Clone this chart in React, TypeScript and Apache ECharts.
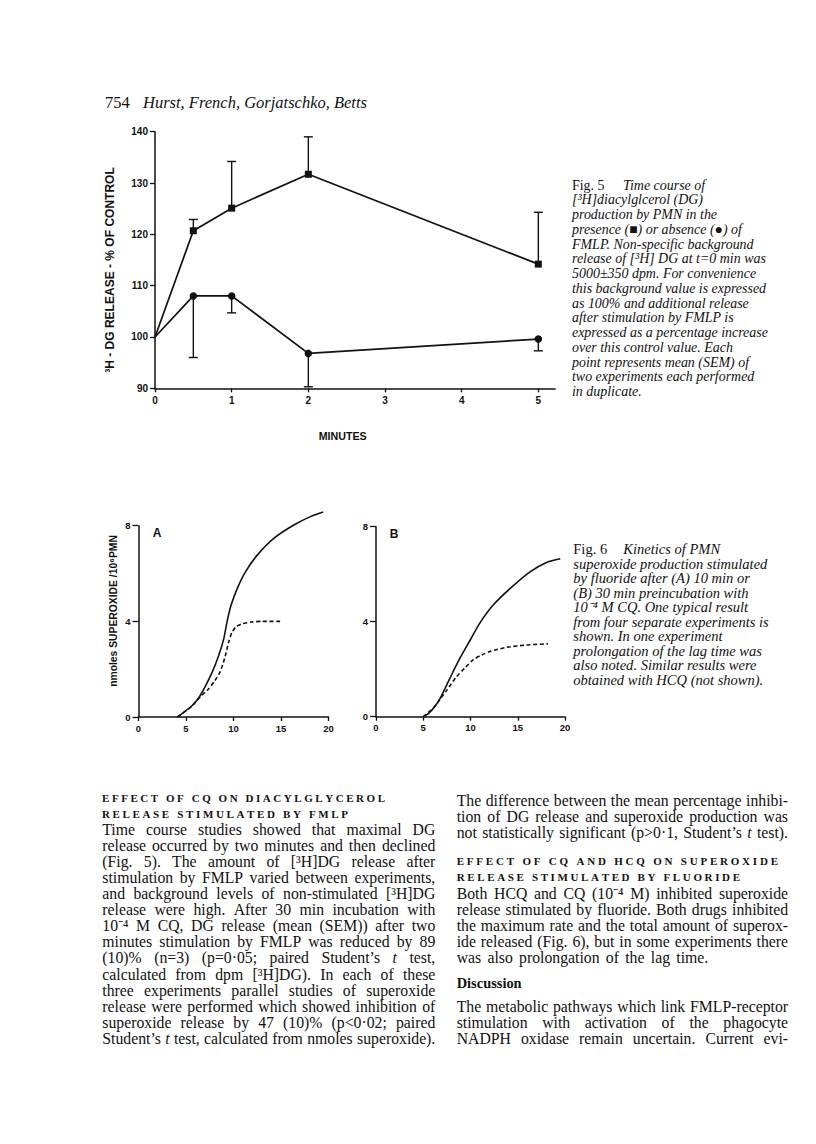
import React, { useEffect, useRef } from "react";
import * as echarts from "echarts";

// ---------------- Fig. 5 data ----------------
const fig5Minutes = [0, 0.5, 1, 2, 5];
const withFmlpMean = [100, 120.7, 125.1, 131.7, 114.2];
const withFmlpUpper = [null, 122.9, 134.2, 139.0, 124.3];
const withoutFmlpMean = [100, 108.0, 108.0, 96.8, 99.6];
const withoutFmlpLower = [null, 96.0, 104.7, 90.3, 97.3];
const fig5XTicks = [0, 1, 2, 3, 4, 5];

// ---------------- Fig. 6 data ----------------
const panelAControlTime = [4.1, 5.65, 6.5, 7.76, 8.45, 8.98, 9.33, 9.75, 10.4, 11.26, 12.5, 14.24, 16.35, 18.1, 19.44];
const panelAControlValue = [0, 0.48, 0.9, 1.88, 2.58, 3.28, 4.0, 4.68, 5.38, 6.07, 6.77, 7.47, 8.03, 8.38, 8.57];
const panelACqTime = [4.1, 5.6, 6.5, 7.25, 8.0, 8.6, 9.1, 9.5, 9.85, 10.3, 10.9, 11.9, 13.0, 14.95];
const panelACqValue = [0, 0.45, 0.85, 1.12, 1.5, 1.9, 2.5, 3.15, 3.55, 3.78, 3.9, 3.97, 4.0, 4.0];
const panelBControlTime = [5.0, 5.6, 6.2, 6.8, 7.8, 8.8, 10.0, 11.0, 12.4, 14.2, 16.3, 18.1, 19.5];
const panelBControlValue = [0, 0.15, 0.42, 0.78, 1.6, 2.4, 3.25, 3.95, 4.7, 5.4, 6.1, 6.5, 6.65];
const panelBCqTime = [5.0, 6.2, 6.8, 7.5, 8.45, 9.4, 10.3, 11.2, 12.1, 13.8, 15.9, 18.2];
const panelBCqValue = [0, 0.42, 0.75, 1.12, 1.65, 2.05, 2.4, 2.6, 2.75, 2.92, 3.02, 3.07];
const fig6XTicks = [0, 5, 10, 15, 20];

// ---------------- Page text ----------------
const headerNumber = "754";
const headerAuthors = "Hurst, French, Gorjatschko, Betts";
const fig5YTitle = "³H - DG RELEASE - % OF CONTROL";
const fig5XTitle = "MINUTES";
const fig6YTitle = "nmoles SUPEROXIDE /10⁶PMN";
const fig5CaptionLead = "Fig. 5";
const fig5Caption = [
  "Time course of",
  "[³H]diacylglcerol (DG)",
  "production by PMN in the",
  "presence (■) or absence (●) of",
  "FMLP. Non-specific background",
  "release of [³H] DG at t=0 min was",
  "5000±350 dpm. For convenience",
  "this background value is expressed",
  "as 100% and additional release",
  "after stimulation by FMLP is",
  "expressed as a percentage increase",
  "over this control value. Each",
  "point represents mean (SEM) of",
  "two experiments each performed",
  "in duplicate.",
];
const fig6CaptionLead = "Fig. 6";
const fig6Caption = [
  "Kinetics of PMN",
  "superoxide production stimulated",
  "by fluoride after (A) 10 min or",
  "(B) 30 min preincubation with",
  "10⁻⁴ M CQ. One typical result",
  "from four separate experiments is",
  "shown. In one experiment",
  "prolongation of the lag time was",
  "also noted. Similar results were",
  "obtained with HCQ (not shown).",
];
const leftHeading = ["EFFECT OF CQ ON DIACYLGLYCEROL", "RELEASE STIMULATED BY FMLP"];
const leftBody = [
  "Time course studies showed that maximal DG",
  "release occurred by two minutes and then declined",
  "(Fig. 5). The amount of [³H]DG release after",
  "stimulation by FMLP varied between experiments,",
  "and background levels of non-stimulated [³H]DG",
  "release were high. After 30 min incubation with",
  "10⁻⁴ M CQ, DG release (mean (SEM)) after two",
  "minutes stimulation by FMLP was reduced by 89",
  "(10)% (n=3) (p=0·05; paired Student’s _t_ test,",
  "calculated from dpm [³H]DG). In each of these",
  "three experiments parallel studies of superoxide",
  "release were performed which showed inhibition of",
  "superoxide release by 47 (10)% (p<0·02; paired",
  "Student’s _t_ test, calculated from nmoles superoxide).",
];
const rightBodyTop = [
  "The difference between the mean percentage inhibi-",
  "tion of DG release and superoxide production was",
  "not statistically significant (p>0·1, Student’s _t_ test).",
];
const rightHeading = ["EFFECT OF CQ AND HCQ ON SUPEROXIDE", "RELEASE STIMULATED BY FLUORIDE"];
const rightBodyMiddle = [
  "Both HCQ and CQ (10⁻⁴ M) inhibited superoxide",
  "release stimulated by fluoride. Both drugs inhibited",
  "the maximum rate and the total amount of superox-",
  "ide released (Fig. 6), but in some experiments there",
  "was also prolongation of the lag time.",
];
const discussionTitle = "Discussion";
const rightBodyBottom = [
  "The metabolic pathways which link FMLP-receptor",
  "stimulation with activation of the phagocyte",
  "NADPH oxidase remain uncertain. Current evi-",
];

// ---------------- styling ----------------
const INK = "#111111";
const SERIF = "Liberation Serif";
const SANS = "Liberation Sans";

let mctx: CanvasRenderingContext2D | null = null;
function measure(text: string, size: number, family: string, style = "normal", weight = "normal") {
  if (!mctx) mctx = document.createElement("canvas").getContext("2d");
  mctx!.font = `${style} ${weight} ${size}px "${family}"`;
  return mctx!.measureText(text).width;
}
function fitSize(text: string, width: number, family: string, style = "normal", weight = "normal") {
  return (100 * width) / measure(text, 100, family, style, weight);
}

function textEl(x: number, y: number, text: string, size: number, family: string, opt: any = {}) {
  const align = opt.align ?? "left";
  return {
    type: "text",
    x,
    y,
    rotation: opt.rotation ?? 0,
    silent: true,
    style: {
      text,
      fill: INK,
      fontSize: size,
      fontFamily: family,
      fontStyle: opt.style ?? "normal",
      fontWeight: opt.weight ?? "normal",
      align,
      verticalAlign: "middle",
      textAlign: align,
      textVerticalAlign: "middle",
    },
  };
}

function tokens(line: string) {
  return line
    .split(" ")
    .filter((t) => t.length > 0)
    .map((t) => {
      const italic = t.length > 2 && t.startsWith("_") && t.endsWith("_");
      return { t: italic ? t.slice(1, -1) : t, italic };
    });
}
function naturalWidth(line: string, size: number) {
  const toks = tokens(line);
  let w = 0;
  toks.forEach((k) => (w += measure(k.t, size, SERIF, k.italic ? "italic" : "normal")));
  return w + (toks.length - 1) * measure(" ", size, SERIF);
}
function layoutLine(els: any[], line: string, x0: number, y: number, width: number, size: number, justify: boolean) {
  const toks = tokens(line);
  const ws = toks.map((k) => measure(k.t, size, SERIF, k.italic ? "italic" : "normal"));
  const sum = ws.reduce((a, b) => a + b, 0);
  const gap = justify && toks.length > 1 ? (width - sum) / (toks.length - 1) : measure(" ", size, SERIF);
  let x = x0;
  toks.forEach((k, i) => {
    els.push(textEl(x, y, k.t, size, SERIF, { style: k.italic ? "italic" : "normal" }));
    x += ws[i] + gap;
  });
}
function spacedLine(els: any[], text: string, x0: number, y: number, width: number, size: number) {
  const chars = Array.from(text);
  const ws = chars.map((c) => measure(c, size, SERIF, "normal", "bold"));
  const total = ws.reduce((a, b) => a + b, 0);
  const sp = (width - total) / (chars.length - 1);
  let x = x0;
  chars.forEach((c, i) => {
    if (c !== " ") els.push(textEl(x, y, c, size, SERIF, { weight: "bold" }));
    x += ws[i] + sp;
  });
}

function buildGraphics() {
  const els: any[] = [];
  // header
  const hSize = fitSize(headerAuthors, 224, SERIF, "italic");
  els.push(textEl(105, 102, headerNumber, hSize, SERIF));
  els.push(textEl(143, 102, headerAuthors, hSize, SERIF, { style: "italic" }));

  // Fig 5 axis titles
  const yTitleSize = fitSize(fig5YTitle, 206, SANS, "normal", "bold");
  els.push(textEl(110, 270, fig5YTitle, yTitleSize, SANS, { weight: "bold", align: "center", rotation: Math.PI / 2 }));
  const xTitleSize = fitSize(fig5XTitle, 48, SANS, "normal", "bold");
  els.push(textEl(342.7, 436, fig5XTitle, xTitleSize, SANS, { weight: "bold", align: "center" }));

  // Fig 5 caption
  const c5 = fitSize("expressed as a percentage increase", 196, SERIF, "italic");
  els.push(textEl(572, 185, fig5CaptionLead, c5, SERIF));
  fig5Caption.forEach((l, i) => {
    els.push(textEl(i === 0 ? 623 : 572, 185 + i * 14.76, l, c5, SERIF, { style: "italic" }));
  });

  // Fig 6 titles & panel letters
  const y6Size = fitSize(fig6YTitle, 152, SANS, "normal", "bold");
  els.push(textEl(113, 611, fig6YTitle, y6Size, SANS, { weight: "bold", align: "center", rotation: Math.PI / 2 }));
  els.push(textEl(157, 533, "A", 12, SANS, { weight: "bold", align: "center" }));
  els.push(textEl(394, 534, "B", 12, SANS, { weight: "bold", align: "center" }));

  // Fig 6 caption
  const c6 = fitSize("from four separate experiments is", 195.7, SERIF, "italic");
  els.push(textEl(573.3, 549, fig6CaptionLead, c6, SERIF));
  fig6Caption.forEach((l, i) => {
    els.push(textEl(i === 0 ? 623.3 : 573.3, 549 + i * 14.56, l, c6, SERIF, { style: "italic" }));
  });

  // body text
  const LW = 333;
  const RW = 331.3;
  const fullLines = [...leftBody, ...rightBodyTop, ...rightBodyMiddle.slice(0, 4), ...rightBodyBottom];
  let bodySize = 100;
  fullLines.forEach((l) => {
    const s = (100 * 331) / naturalWidth(l, 100);
    if (s < bodySize) bodySize = s;
  });
  const headSize = 11;
  spacedLine(els, leftHeading[0], 102, 797.7, 283, headSize);
  spacedLine(els, leftHeading[1], 102, 814, 246, headSize);
  leftBody.forEach((l, i) => layoutLine(els, l, 102.3, 829.3 + i * 16.08, LW, bodySize, true));

  rightBodyTop.forEach((l, i) => layoutLine(els, l, 456.7, 800 + i * 16.15, RW, bodySize, true));
  spacedLine(els, rightHeading[0], 456.7, 861, 321.3, headSize);
  spacedLine(els, rightHeading[1], 456.7, 876.7, 283.3, headSize);
  rightBodyMiddle.forEach((l, i) =>
    layoutLine(els, l, 456.7, 893.3 + i * 16.1, i === 4 ? 251.5 : RW, bodySize, true)
  );
  const dSize = fitSize(discussionTitle, 65, SERIF, "normal", "bold");
  els.push(textEl(456.7, 982.7, discussionTitle, dSize, SERIF, { weight: "bold" }));
  rightBodyBottom.forEach((l, i) => layoutLine(els, l, 456.7, 1006.7 + i * 15.8, RW, bodySize, true));
  return els;
}

function errorBarSeries(mean: (number | null)[], end: (number | null)[]) {
  const data = fig5Minutes
    .map((m, i) => (end[i] == null ? null : [m, mean[i], end[i]]))
    .filter((d) => d != null);
  return {
    type: "custom",
    xAxisIndex: 0,
    yAxisIndex: 0,
    z: 1,
    encode: { x: 0, y: [1, 2] },
    data,
    renderItem: (params: any, api: any) => {
      const p0 = api.coord([api.value(0), api.value(1)]);
      const p1 = api.coord([api.value(0), api.value(2)]);
      const hw = 4.5;
      const st = { stroke: INK, lineWidth: 1.4 };
      return {
        type: "group",
        children: [
          { type: "line", shape: { x1: p0[0], y1: p0[1], x2: p1[0], y2: p1[1] }, style: st },
          { type: "line", shape: { x1: p1[0] - hw, y1: p1[1], x2: p1[0] + hw, y2: p1[1] }, style: st },
        ],
      };
    },
  };
}

function curve(xi: number, times: number[], values: number[], dashed: boolean) {
  return {
    type: "line",
    xAxisIndex: xi,
    yAxisIndex: xi,
    data: times.map((t, i) => [t, values[i]]),
    showSymbol: false,
    symbol: "none",
    smooth: 0.25,
    clip: false,
    lineStyle: { color: INK, width: 1.6, type: dashed ? [4, 2.6] : "solid" },
    z: 3,
  };
}

function buildOption() {
  const axisLine = { show: true, onZero: false, lineStyle: { color: INK, width: 1.5 } };
  const tickStyle = { color: INK, width: 1.3 };
  const labelBase = { color: INK, fontFamily: SANS, fontWeight: "bold", fontSize: 10 };
  return {
    animation: false,
    backgroundColor: "#ffffff",
    grid: [
      { left: 155, top: 131.7, width: 400.2, height: 256.6, outerBoundsMode: "none", containLabel: false },
      { left: 138.5, top: 525.7, width: 190, height: 191.3, outerBoundsMode: "none", containLabel: false },
      { left: 376, top: 526.7, width: 189, height: 190, outerBoundsMode: "none", containLabel: false },
    ],
    xAxis: [
      {
        gridIndex: 0,
        type: "value",
        min: 0,
        max: 5.22,
        interval: 1,
        axisLine,
        axisTick: { show: true, length: 4, lineStyle: tickStyle, customValues: fig5XTicks },
        axisLabel: { ...labelBase, margin: 7, customValues: fig5XTicks },
        splitLine: { show: false },
      },
      {
        gridIndex: 1,
        type: "value",
        min: 0,
        max: 20,
        interval: 5,
        axisLine,
        axisTick: { show: true, length: 4, lineStyle: tickStyle, customValues: fig6XTicks },
        axisLabel: { ...labelBase, fontSize: 9.5, margin: 6, customValues: fig6XTicks },
        splitLine: { show: false },
      },
      {
        gridIndex: 2,
        type: "value",
        min: 0,
        max: 20,
        interval: 5,
        axisLine,
        axisTick: { show: true, length: 4, lineStyle: tickStyle, customValues: fig6XTicks },
        axisLabel: { ...labelBase, fontSize: 9.5, margin: 6, customValues: fig6XTicks },
        splitLine: { show: false },
      },
    ],
    yAxis: [
      {
        gridIndex: 0,
        type: "value",
        min: 90,
        max: 140,
        interval: 10,
        axisLine,
        axisTick: { show: true, length: 5, lineStyle: tickStyle },
        axisLabel: { ...labelBase, margin: 7 },
        splitLine: { show: false },
      },
      {
        gridIndex: 1,
        type: "value",
        min: 0,
        max: 8,
        interval: 4,
        axisLine,
        axisTick: { show: true, length: 6, lineStyle: tickStyle },
        axisLabel: { ...labelBase, fontSize: 9.5, margin: 8 },
        splitLine: { show: false },
      },
      {
        gridIndex: 2,
        type: "value",
        min: 0,
        max: 8,
        interval: 4,
        axisLine,
        axisTick: { show: true, length: 6, lineStyle: tickStyle },
        axisLabel: { ...labelBase, fontSize: 9.5, margin: 8 },
        splitLine: { show: false },
      },
    ],
    series: [
      errorBarSeries(withFmlpMean, withFmlpUpper),
      errorBarSeries(withoutFmlpMean, withoutFmlpLower),
      {
        type: "line",
        xAxisIndex: 0,
        yAxisIndex: 0,
        z: 3,
        data: fig5Minutes.map((m, i) => ({ value: [m, withFmlpMean[i]], symbol: m === 0 ? "none" : "rect" })),
        symbolSize: 7,
        lineStyle: { color: INK, width: 1.7 },
        itemStyle: { color: INK },
        clip: false,
      },
      {
        type: "line",
        xAxisIndex: 0,
        yAxisIndex: 0,
        z: 3,
        data: fig5Minutes.map((m, i) => ({ value: [m, withoutFmlpMean[i]], symbol: m === 0 ? "none" : "circle" })),
        symbolSize: 7.5,
        lineStyle: { color: INK, width: 1.7 },
        itemStyle: { color: INK },
        clip: false,
      },
      curve(1, panelAControlTime, panelAControlValue, false),
      curve(1, panelACqTime, panelACqValue, true),
      curve(2, panelBControlTime, panelBControlValue, false),
      curve(2, panelBCqTime, panelBCqValue, true),
    ],
    graphic: { elements: buildGraphics() },
  };
}

export default function App() {
  const ref = useRef<HTMLDivElement>(null);
  useEffect(() => {
    document.body.style.margin = "0";
    const chart = echarts.init(ref.current!, undefined, { renderer: "svg" });
    chart.setOption(buildOption() as any);
    return () => chart.dispose();
  }, []);
  return <div ref={ref} style={{ width: 816, height: 1144, background: "#fff" }} />;
}
